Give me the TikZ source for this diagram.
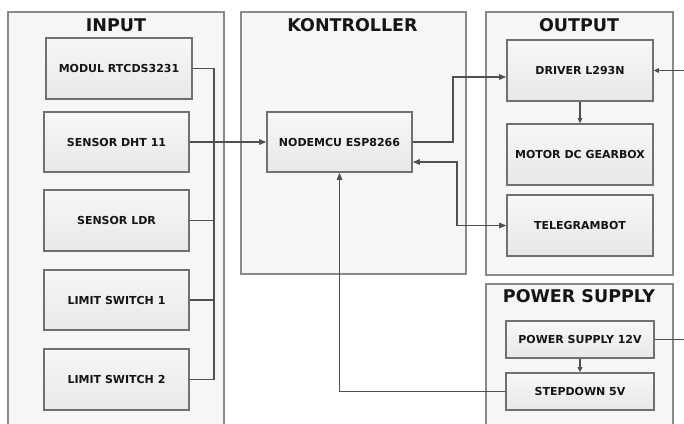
\documentclass[tikz,border=0pt]{standalone}
\usepackage{fontspec}
\setmainfont{DejaVu Sans}
\usetikzlibrary{arrows.meta}
\definecolor{cborder}{HTML}{8A8A8A}
\definecolor{bborder}{HTML}{707070}
\definecolor{cfill}{HTML}{F6F6F6}
\definecolor{btop}{HTML}{F7F7F7}
\definecolor{bbot}{HTML}{E8E8E8}
\definecolor{linec}{HTML}{505050}
\definecolor{txt}{HTML}{151515}
\tikzset{
  container/.style={draw=cborder, line width=1.5pt, fill=cfill},
  blk/.style={draw=bborder, line width=1.6pt, top color=btop, bottom color=bbot,
    rectangle, inner sep=0pt, font=\bfseries\fontsize{11}{13}\selectfont, text=txt},
  ttl/.style={font=\bfseries\fontsize{17.5}{20}\selectfont, text=txt, anchor=base, inner sep=0pt},
  conn/.style={draw=linec, line width=1.2pt},
  arr/.style={conn, -{Triangle[length=7pt,width=5.5pt]}},
  sarr/.style={conn, -{Triangle[length=5pt,width=4.5pt]}},
  barr/.style={conn, {Triangle[length=7pt,width=5.5pt]}-{Triangle[length=7pt,width=5.5pt]}},
}
\begin{document}
\begin{tikzpicture}[x=1pt, y=-1pt]
\useasboundingbox (0,0) rectangle (684,423);
\clip (0,0) rectangle (684,423);
\fill[white] (0,0) rectangle (684,423);
% containers
\draw[container] (8,12) rectangle (224,440);
\draw[container] (241,12) rectangle (466,274);
\draw[container] (486,12) rectangle (673,275);
\draw[container] (486,284) rectangle (673,440);
\node[ttl] (tin) at (116,31) {INPUT};
\node[ttl] (tctl) at (352.5,31) {KONTROLLER};
\node[ttl] (tout) at (579,31) {OUTPUT};
\node[ttl] (tpwr) at (579,302) {POWER SUPPLY};
% input blocks
\node[blk, minimum width=146pt, minimum height=61pt] (mod) at (119,68.5) {MODUL RTCDS3231};
\node[blk, minimum width=145pt, minimum height=60pt] (dht) at (116.5,142) {SENSOR DHT 11};
\node[blk, minimum width=145pt, minimum height=61pt] (ldr) at (116.5,220.5) {SENSOR LDR};
\node[blk, minimum width=145pt, minimum height=60pt] (ls1) at (116.5,300) {LIMIT SWITCH 1};
\node[blk, minimum width=145pt, minimum height=61pt] (ls2) at (116.5,379.5) {LIMIT SWITCH 2};
% controller
\node[blk, minimum width=145pt, minimum height=60pt] (mcu) at (339.5,142) {NODEMCU ESP8266};
% output
\node[blk, minimum width=146pt, minimum height=61pt] (drv) at (580,70.5) {DRIVER L293N};
\node[blk, minimum width=146pt, minimum height=61pt] (mot) at (580,154.5) {MOTOR DC GEARBOX};
\node[blk, minimum width=146pt, minimum height=61pt] (tel) at (580,225.5) {TELEGRAMBOT};
% power
\node[blk, minimum width=148pt, minimum height=37pt] (ps) at (580,339.5) {POWER SUPPLY 12V};
\node[blk, minimum width=148pt, minimum height=37pt] (sd) at (580,391.5) {STEPDOWN 5V};
% coordinates
\coordinate (bus) at (214,0);
\coordinate (j1) at (453,77);
\coordinate (j2) at (457,0);
\coordinate (ein) at (690,70.5);
\coordinate (eout) at (690,339.5);
% connectors
\draw[conn] (mod.east) -| (bus |- ls2.east) -- (ls2.east);
\draw[conn] (ldr.east) -- (ldr.east -| bus);
\draw[conn] (ls1.east) -- (ls1.east -| bus);
\draw[arr] (dht.east) -- (mcu.west);
\draw[arr] (mcu.east) -| (j1) -- (j1 -| drv.west);
\draw[barr] (mcu.east |- 0,162) -| (j2 |- tel.west) -- (tel.west);
\draw[arr] (sd.west) -| (mcu.south);
\draw[sarr] (drv.south) -- (mot.north);
\draw[sarr] (ps.south) -- (sd.north);
\draw[conn] (ps.east) -- (eout);
\draw[sarr] (ein) -- (drv.east);
\end{tikzpicture}
\end{document}
